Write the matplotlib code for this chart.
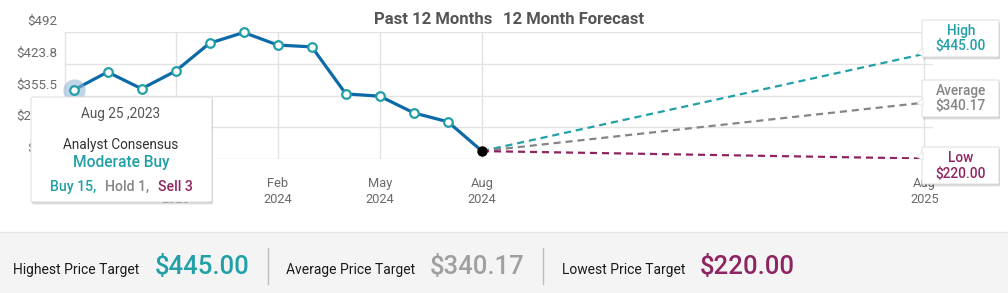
import matplotlib
matplotlib.use("Agg")
import matplotlib.pyplot as plt
from matplotlib.patches import FancyBboxPatch, Rectangle, Polygon
from matplotlib.lines import Line2D
import matplotlib.transforms as mtransforms

plt.rcParams['font.family'] = ['Roboto', 'DejaVu Sans']

# ---------------- data ----------------
past_x = [0, 1, 2, 3, 4, 5, 6, 7, 8, 9, 10, 11, 12]
past_prices = [367, 406, 370, 408, 468, 491, 464, 460, 359, 354, 318, 299, 236]
forecast_x = [12, 25]
target_high = 445.00
target_avg = 340.17
target_low = 220.00
y_ticks = [219, 287.25, 355.5, 423.75, 492]
y_labels = ["$219", "$287.3", "$355.5", "$423.8", "$492"]
x_ticks = [3, 6, 9, 12, 25]
x_labels = ["Nov\n2023", "Feb\n2024", "May\n2024", "Aug\n2024", "Aug\n2025"]
tooltip_date = "Aug 25 ,2023"
consensus = "Moderate Buy"
n_buy, n_hold, n_sell = 15, 1, 3

# ---------------- colors ----------------
TEAL = "#21a0a8"
GRAY = "#858585"
MAG = "#8f2462"
BLUE = "#0d6aa8"
GRID = "#e3e3e3"
LBL = "#6a6a6a"

W, H = 1008, 293
fig = plt.figure(figsize=(W / 100, H / 100), dpi=100)

def fx(x):
    return x / W

def fy(y):
    return 1 - y / H

ax = fig.add_axes([fx(65), fy(159), fx(933) - fx(65), fy(32) - fy(159)])
ax.set_xlim(-0.25, 25.25)
ax.set_ylim(219, 492)

# grid
for v in y_ticks:
    ax.axhline(v, color=GRID, lw=1, zorder=0)
for v in x_ticks:
    ax.plot([v, v], [219, 492], color=GRID, lw=1, zorder=0)
ax.plot([-0.25, -0.25], [219, 492], color=GRID, lw=1, zorder=0, clip_on=False)
for s in ax.spines.values():
    s.set_visible(False)

ax.set_yticks([])
ax.set_xticks(x_ticks)
ax.set_xticklabels(x_labels, fontsize=9.3, color=LBL, linespacing=1.33)
ax.tick_params(axis='x', length=0, pad=13)

# y labels offset above grid lines
off = mtransforms.ScaledTranslation(-8 / 100, 10.5 / 100, fig.dpi_scale_trans)
ytrans = mtransforms.blended_transform_factory(ax.transAxes, ax.transData) + off
for v, lab in zip(y_ticks, y_labels):
    ax.text(0, v, lab, transform=ytrans, ha='right', va='center',
            fontsize=9.6, color=LBL)

# forecast lines
dash = (0, (3.2, 2.2))
ax.plot(forecast_x, [past_prices[-1], target_high], color=TEAL, lw=1.6, ls=dash, zorder=2)
ax.plot(forecast_x, [past_prices[-1], target_avg], color=GRAY, lw=1.6, ls=dash, zorder=2)
ax.plot(forecast_x, [past_prices[-1], target_low], color=MAG, lw=1.6, ls=dash, zorder=2)

# price line
ax.plot(past_x, past_prices, color=BLUE, lw=2.3, zorder=3, clip_on=False)
ax.plot(past_x[:-1], past_prices[:-1], ls='none', marker='o', ms=6.2,
        mfc='white', mec=TEAL, mew=1.6, zorder=4, clip_on=False)
ax.plot(past_x[-1], past_prices[-1], ls='none', marker='o', ms=6.5,
        mfc='black', mec='black', zorder=5, clip_on=False)
# hover halo on first point
ax.plot(past_x[0], past_prices[0], ls='none', marker='o', ms=16,
        mfc='#8db4d6', mec='none', alpha=0.55, zorder=3.5, clip_on=False)

# title
fig.text(fx(492), fy(19), "Past 12 Months", ha='right', va='center',
         fontsize=12, fontweight='bold', color='#555555')
fig.text(fx(503), fy(19), "12 Month Forecast", ha='left', va='center',
         fontsize=12, fontweight='bold', color='#555555')

# ---------- helper boxes ----------
def box(x0, y0, x1, y1, rad=3, z=10):
    for i, a in [(3, 0.06), (2, 0.08), (1, 0.10)]:
        sh = FancyBboxPatch((fx(x0 + 1), fy(y1 + i)), fx(x1 - x0), fy(y0) - fy(y1),
                            boxstyle=f"round,pad=0,rounding_size={rad / W}",
                            transform=fig.transFigure, fc='black', ec='none',
                            alpha=a, zorder=z)
        fig.add_artist(sh)
    p = FancyBboxPatch((fx(x0), fy(y1)), fx(x1 - x0), fy(y0) - fy(y1),
                       boxstyle=f"round,pad=0,rounding_size={rad / W}",
                       transform=fig.transFigure, fc='white', ec='#e2e2e2',
                       lw=0.8, zorder=z + 0.1)
    fig.add_artist(p)

# tooltip
box(31, 97, 212, 202, rad=4)
fig.text(fx(121), fy(114), tooltip_date, ha='center', va='center',
         fontsize=9.8, color='#555555', zorder=12)
fig.text(fx(121), fy(145), "Analyst Consensus", ha='center', va='center',
         fontsize=9.8, color='#333333', zorder=12)
fig.text(fx(121), fy(163), consensus, ha='center', va='center',
         fontsize=11.2, color=TEAL, fontweight='medium', zorder=12)
fig.text(fx(50), fy(187), f"Buy {n_buy},", ha='left', va='center',
         fontsize=10.2, color=TEAL, fontweight='medium', zorder=12)
fig.text(fx(105), fy(187), f"Hold {n_hold},", ha='left', va='center',
         fontsize=10.2, color=GRAY, fontweight='medium', zorder=12)
fig.text(fx(158), fy(187), f"Sell {n_sell}", ha='left', va='center',
         fontsize=10.2, color=MAG, fontweight='medium', zorder=12)

# right forecast labels
def target_box(y0, title, value, color, tip_y):
    box(922, y0, 999, y0 + 37, rad=2)
    tri = Polygon([(fx(923), fy(tip_y - 5)), (fx(917), fy(tip_y)), (fx(923), fy(tip_y + 3))],
                  closed=True, transform=fig.transFigure, fc='white', ec='#e2e2e2',
                  lw=0.6, zorder=10.2)
    fig.add_artist(tri)
    fig.text(fx(961), fy(y0 + 10.5), title, ha='center', va='center',
             fontsize=9.8, color=color, fontweight='medium', zorder=12)
    fig.text(fx(961), fy(y0 + 26.5), value, ha='center', va='center',
             fontsize=9.8, color=color, fontweight='medium', zorder=12)

target_box(20, "High", f"${target_high:.2f}", TEAL, 53)
target_box(80, "Average", f"${target_avg:.2f}", GRAY, 103)
target_box(147, "Low", f"${target_low:.2f}", MAG, 157)

# ---------- bottom summary panel ----------
fig.add_artist(Rectangle((0, 0), 1, fy(232), transform=fig.transFigure,
                         fc='#f4f4f4', ec='none', zorder=1))
fig.add_artist(Line2D([0, 1], [fy(232), fy(232)], transform=fig.transFigure,
                      color='#e6e6e6', lw=1, zorder=1.1))
for sx in (268, 543):
    fig.add_artist(Line2D([fx(sx), fx(sx)], [fy(248), fy(284)], transform=fig.transFigure,
                          color='#bdbdbd', lw=1, zorder=1.2))

yb = fy(267)
fig.text(fx(13), fy(270), "Highest Price Target", ha='left', va='center',
         fontsize=10, color='#1a1a1a', zorder=2)
fig.text(fx(155), yb, f"${target_high:.2f}", ha='left', va='center',
         fontsize=18.5, color=TEAL, fontweight='medium', zorder=2)
fig.text(fx(286), fy(270), "Average Price Target", ha='left', va='center',
         fontsize=10, color='#1a1a1a', zorder=2)
fig.text(fx(430), yb, f"${target_avg:.2f}", ha='left', va='center',
         fontsize=18.5, color='#a0a0a0', fontweight='medium', zorder=2)
fig.text(fx(562), fy(270), "Lowest Price Target", ha='left', va='center',
         fontsize=10, color='#1a1a1a', zorder=2)
fig.text(fx(700), yb, f"${target_low:.2f}", ha='left', va='center',
         fontsize=18.5, color=MAG, fontweight='medium', zorder=2)

fig.savefig("out.png", dpi=100)
